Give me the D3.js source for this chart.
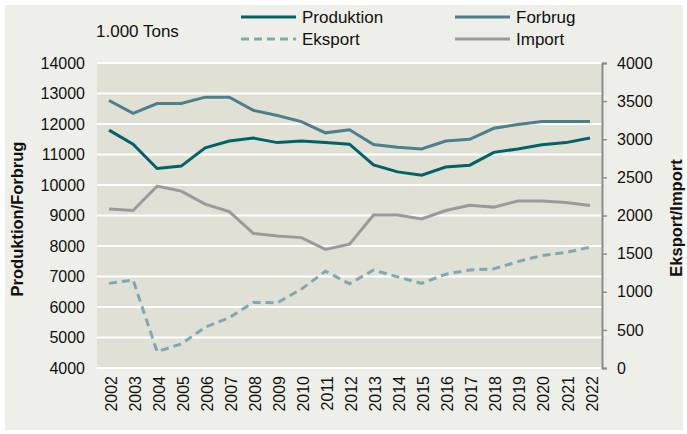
<!DOCTYPE html>
<html><head><meta charset="utf-8">
<script src="https://cdn.jsdelivr.net/npm/d3@7"></script>
<style>
html,body{margin:0;padding:0;background:#fff;}
svg{display:block;font-family:"Liberation Sans",Arial,sans-serif;}
</style></head>
<body><svg id="c" width="687" height="434"></svg>
<script>
const years = ["2002","2003","2004","2005","2006","2007","2008","2009","2010","2011","2012","2013","2014","2015","2016","2017","2018","2019","2020","2021","2022"];
const produktion = [11800,11340,10540,10620,11220,11440,11540,11390,11440,11390,11340,10660,10430,10320,10590,10650,11070,11180,11320,11390,11540];
const forbrug = [12770,12350,12670,12670,12880,12880,12450,12280,12080,11710,11810,11330,11240,11180,11440,11500,11860,11980,12080,12080,12080];
const eksport = [1110,1155,215,315,535,660,860,855,1035,1270,1105,1285,1195,1110,1230,1285,1300,1395,1475,1515,1585];
const importv = [2085,2065,2385,2320,2150,2050,1765,1730,1710,1555,1625,2005,2005,1955,2065,2135,2110,2190,2190,2170,2130];
const leftTicks = [4000,5000,6000,7000,8000,9000,10000,11000,12000,13000,14000];
const rightTicks = [0,500,1000,1500,2000,2500,3000,3500,4000];

const svg = d3.select("#c");
svg.append("rect").attr("x",5).attr("y",5).attr("width",678).attr("height",425).attr("fill","#efefe9");

const L=97, R=602, T=63, B=368;
const x = d3.scaleBand().domain(years).range([L,R]);
const yL = d3.scaleLinear().domain([4000,14000]).range([B,T]);
const yR = d3.scaleLinear().domain([0,4000]).range([B,T]);

svg.append("rect").attr("x",L).attr("y",T).attr("width",R-L).attr("height",B-T).attr("fill","#e0e0d5");

// gridlines
svg.append("g").selectAll("line").data(leftTicks).join("line")
  .attr("x1",L).attr("x2",R).attr("y1",d=>yL(d)).attr("y2",d=>yL(d))
  .attr("stroke","#fff").attr("stroke-width",2);

// left axis labels
const gl = svg.append("g").attr("transform",`translate(${L},0)`)
  .call(d3.axisLeft(yL).tickValues(leftTicks).tickSize(0).tickPadding(12).tickFormat(d3.format("d")));
gl.select(".domain").remove();
gl.selectAll("text").attr("font-size",16).attr("fill","#111").attr("font-family","Liberation Sans, Arial, sans-serif");

// right axis
const gr = svg.append("g").attr("transform",`translate(${R},0)`)
  .call(d3.axisRight(yR).tickValues(rightTicks).tickSize(5).tickPadding(10).tickFormat(d3.format("d")));
gr.select(".domain").attr("stroke","#8c8c8c").attr("stroke-width",2);
gr.selectAll(".tick line").attr("stroke","#8c8c8c").attr("stroke-width",1.5);
gr.selectAll("text").attr("font-size",16).attr("fill","#111").attr("font-family","Liberation Sans, Arial, sans-serif");

// x axis labels
const gx = svg.append("g").attr("transform",`translate(0,${B})`)
  .call(d3.axisBottom(x).tickSize(0).tickPadding(0));
gx.select(".domain").remove();
gx.selectAll("text").attr("font-size",16).attr("fill","#111")
  .attr("font-family","Liberation Sans, Arial, sans-serif")
  .attr("transform","translate(2,8) rotate(-90)")
  .attr("text-anchor","end").attr("dy","0.35em").attr("y",0).attr("x",0);

// axis titles
svg.append("text").attr("transform","translate(23,219) rotate(-90)")
  .attr("text-anchor","middle").attr("font-size",16.5).attr("font-weight","bold").attr("fill","#111")
  .text("Produktion/Forbrug");
svg.append("text").attr("transform","translate(682,218) rotate(-90)")
  .attr("text-anchor","middle").attr("font-size",16.5).attr("font-weight","bold").attr("fill","#111")
  .text("Eksport/Import");

const cx = d => x(d)+x.bandwidth()/2;
const series = [
  {name:"Import", vals:importv, y:yR, color:"#9a9a9a", dash:null},
  {name:"Eksport", vals:eksport, y:yR, color:"#7ea9b4", dash:"8,5"},
  {name:"Forbrug", vals:forbrug, y:yL, color:"#4b7f8c", dash:null},
  {name:"Produktion", vals:produktion, y:yL, color:"#00636b", dash:null}
];
series.forEach(s=>{
  const line = d3.line().x((d,i)=>cx(years[i])).y(d=>s.y(d));
  svg.append("path").datum(s.vals).attr("d",line).attr("fill","none")
    .attr("stroke",s.color).attr("stroke-width",3)
    .attr("stroke-dasharray",s.dash);
});

// legend
svg.append("text").attr("x",96).attr("y",37).attr("font-size",17).attr("fill","#111").text("1.000 Tons");
const leg = [
  {name:"Produktion", color:"#00636b", dash:null, x:241, y:17},
  {name:"Forbrug", color:"#4b7f8c", dash:null, x:455, y:17},
  {name:"Eksport", color:"#7ea9b4", dash:"8,5", x:241, y:39},
  {name:"Import", color:"#9a9a9a", dash:null, x:455, y:39}
];
leg.forEach(l=>{
  svg.append("line").attr("x1",l.x).attr("x2",l.x+55).attr("y1",l.y).attr("y2",l.y)
    .attr("stroke",l.color).attr("stroke-width",3).attr("stroke-dasharray",l.dash);
  svg.append("text").attr("x",l.x+61).attr("y",l.y).attr("dy","0.35em")
    .attr("font-size",17).attr("fill","#111").text(l.name);
});
</script></body></html>
